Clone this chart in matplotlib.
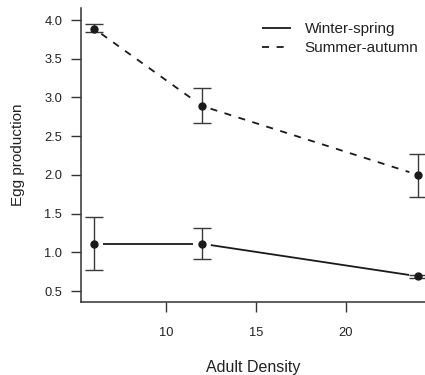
import matplotlib
matplotlib.use("Agg")
import matplotlib.pyplot as plt
import numpy as np

plt.rcParams['font.family'] = ['Liberation Sans', 'DejaVu Sans']

# Egg production by adult density, two seasons (mean with error range)
density = [6, 12, 24]
winter_mean = [1.11, 1.11, 0.69]
winter_low = [0.77, 0.91, 0.67]
winter_high = [1.45, 1.31, 0.71]
summer_mean = [3.89, 2.89, 2.00]
summer_low = [3.84, 2.67, 1.72]
summer_high = [3.95, 3.12, 2.27]

x_ticks = [10, 15, 20]
y_ticks = [0.5, 1.0, 1.5, 2.0, 2.5, 3.0, 3.5, 4.0]

ink = '#1a1a1a'
axis_col = '#333333'

fig = plt.figure(figsize=(4.25, 3.75), dpi=100)
ax = fig.add_axes([81 / 425, 73 / 375, (425 - 81) / 425, (367 - 73) / 375])
ax.set_xlim(5.28, 24.39)
ax.set_ylim(0.358, 4.155)

gap_px = 9.0


def gapped_line(xs, ys, **kw):
    """Connect points with segments that stop short of each marker."""
    fig.canvas.draw()
    pts = ax.transData.transform(np.column_stack([xs, ys]))
    inv = ax.transData.inverted()
    first = True
    for p0, p1 in zip(pts[:-1], pts[1:]):
        d = p1 - p0
        L = np.hypot(*d)
        u = d / L
        a = inv.transform(p0 + u * gap_px)
        b = inv.transform(p1 - u * gap_px)
        ax.plot([a[0], b[0]], [a[1], b[1]], color=ink, lw=1.3,
                label=kw.get('label') if first else None,
                **{k: v for k, v in kw.items() if k != 'label'})
        first = False


def bars(xs, mean, low, high):
    yerr = [np.array(mean) - np.array(low), np.array(high) - np.array(mean)]
    ax.errorbar(xs, mean, yerr=yerr, fmt='o', color=ink, ms=5,
                ecolor='#3a3a3a', elinewidth=1.0, capsize=6.8, capthick=1.0,
                clip_on=False, zorder=3)


gapped_line(density, winter_mean, label='Winter-spring', solid_capstyle='butt')
gapped_line(density, summer_mean, label='Summer-autumn',
            linestyle=(0, (3.9, 4.2)), dash_capstyle='butt')
bars(density, winter_mean, winter_low, winter_high)
bars(density, summer_mean, summer_low, summer_high)

for s in ['top', 'right']:
    ax.spines[s].set_visible(False)
for s in ['left', 'bottom']:
    ax.spines[s].set_color(axis_col)
    ax.spines[s].set_linewidth(1.1)

ax.set_xticks(x_ticks)
ax.set_yticks(y_ticks)
ax.set_yticklabels([f'{v:.1f}' for v in y_ticks])
ax.tick_params(axis='both', length=7, width=1.0, color=axis_col,
               labelcolor='#222222', labelsize=9.3, pad=6.5)
ax.tick_params(axis='x', pad=11)

ax.set_xlabel('Adult Density', fontsize=11.5, color='#222222', labelpad=15)
ax.set_ylabel('Egg production', fontsize=11, color='#222222', labelpad=14)

leg = ax.legend(loc='upper right', bbox_to_anchor=(1.012, 0.989), frameon=False,
                fontsize=11, handlelength=1.9, handletextpad=0.9,
                labelspacing=0.33, borderaxespad=0.3)
for t in leg.get_texts():
    t.set_color('#222222')

fig.savefig('out.png', dpi=100)
